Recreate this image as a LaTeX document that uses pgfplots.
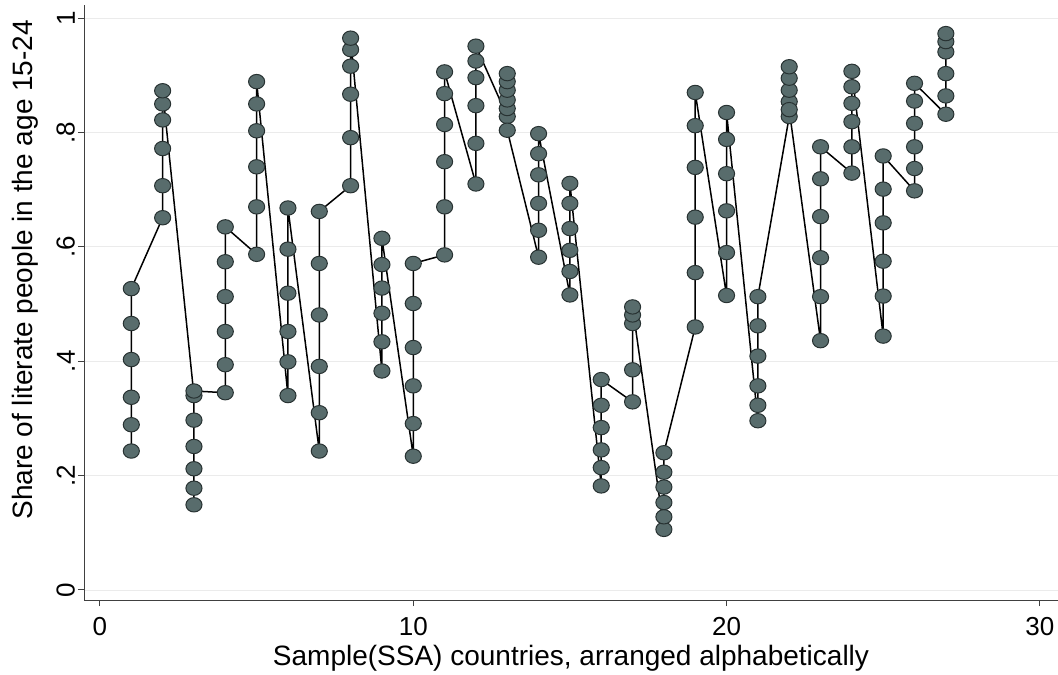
\documentclass[border=0pt]{standalone}
\usepackage{pgfplots}
\pgfplotsset{compat=1.18}
\usepackage{pgfplotstable}
\usepackage{fontspec}
\setmainfont{Liberation Sans}
\definecolor{mfill}{RGB}{88,108,108}
\definecolor{mdraw}{RGB}{40,50,50}
\pgfplotstableread{
x y
1 0.243
1 0.289
1 0.337
1 0.403
1 0.466
1 0.527
2 0.651
2 0.707
2 0.772
2 0.822
2 0.850
2 0.873
3 0.340
3 0.297
3 0.251
3 0.212
3 0.178
3 0.149
3 0.348
4 0.345
4 0.394
4 0.452
4 0.513
4 0.574
4 0.635
5 0.587
5 0.670
5 0.740
5 0.803
5 0.850
5 0.889
6 0.340
6 0.399
6 0.452
6 0.519
6 0.596
6 0.668
7 0.243
7 0.310
7 0.391
7 0.481
7 0.571
7 0.662
8 0.707
8 0.791
8 0.867
8 0.916
8 0.945
8 0.965
9 0.383
9 0.434
9 0.484
9 0.528
9 0.569
9 0.615
10 0.234
10 0.291
10 0.357
10 0.424
10 0.501
10 0.571
11 0.586
11 0.670
11 0.749
11 0.814
11 0.868
11 0.906
12 0.710
12 0.781
12 0.847
12 0.896
12 0.925
12 0.951
13 0.828
13 0.842
13 0.857
13 0.874
13 0.889
13 0.903
13 0.804
14 0.582
14 0.629
14 0.676
14 0.726
14 0.763
14 0.798
15 0.516
15 0.557
15 0.594
15 0.632
15 0.676
15 0.711
16 0.182
16 0.214
16 0.245
16 0.284
16 0.323
16 0.368
17 0.329
17 0.385
17 0.466
17 0.481
17 0.495
18 0.106
18 0.128
18 0.153
18 0.180
18 0.206
18 0.240
19 0.460
19 0.555
19 0.652
19 0.739
19 0.812
19 0.870
20 0.515
20 0.590
20 0.663
20 0.728
20 0.788
20 0.835
21 0.296
21 0.323
21 0.357
21 0.409
21 0.462
21 0.513
22 0.828
22 0.854
22 0.874
22 0.895
22 0.915
22 0.840
23 0.436
23 0.513
23 0.581
23 0.653
23 0.719
23 0.775
24 0.729
24 0.775
24 0.819
24 0.851
24 0.880
24 0.907
25 0.444
25 0.514
25 0.575
25 0.642
25 0.701
25 0.759
26 0.698
26 0.737
26 0.775
26 0.816
26 0.855
26 0.886
27 0.832
27 0.864
27 0.903
27 0.941
27 0.959
27 0.973
}\lit
\begin{document}
\begin{tikzpicture}
\begin{axis}[
  at={(0,0)}, anchor=south west,
  scale only axis,
  width=487pt, height=297.5pt,
  xmin=-0.51, xmax=30.58,
  ymin=-0.0175, ymax=1.023,
  axis lines*=left,
  axis line style={black!75, line width=0.5pt},
  tick align=outside,
  major tick length=3pt,
  tick style={black!75, line width=0.5pt},
  xtick={0,10,20,30}, xticklabels={0,10,20,30},
  ytick={0,0.2,0.4,0.6,0.8,1}, yticklabels={0,.2,.4,.6,.8,1},
  ymajorgrids, grid style={black!8, line width=0.4pt},
  tick label style={font=\fontsize{13}{15}\selectfont},
  xticklabel style={yshift=-2pt},
  yticklabel style={xshift=2pt, rotate=90, anchor=south},
  label style={font=\fontsize{14}{16}\selectfont},
  xlabel={Sample(SSA) countries, arranged alphabetically},
  xlabel style={at={(axis description cs:0.5,0)}, anchor=center, yshift=-29pt},
  ylabel={Share of literate people in the age 15-24},
  ylabel style={at={(axis description cs:-0.0606,0.555)}, anchor=center},
  clip=false,
]
\addplot[black, line width=0.75pt, mark=*, mark size=3.6pt,
  mark options={fill=mfill, draw=mdraw, line width=0.5pt, xscale=1.12}]
  table[x=x, y=y] {\lit};
\end{axis}
\pgfresetboundingbox
\path (-42pt,-37pt) rectangle (487pt,300pt);
\end{tikzpicture}
\end{document}
